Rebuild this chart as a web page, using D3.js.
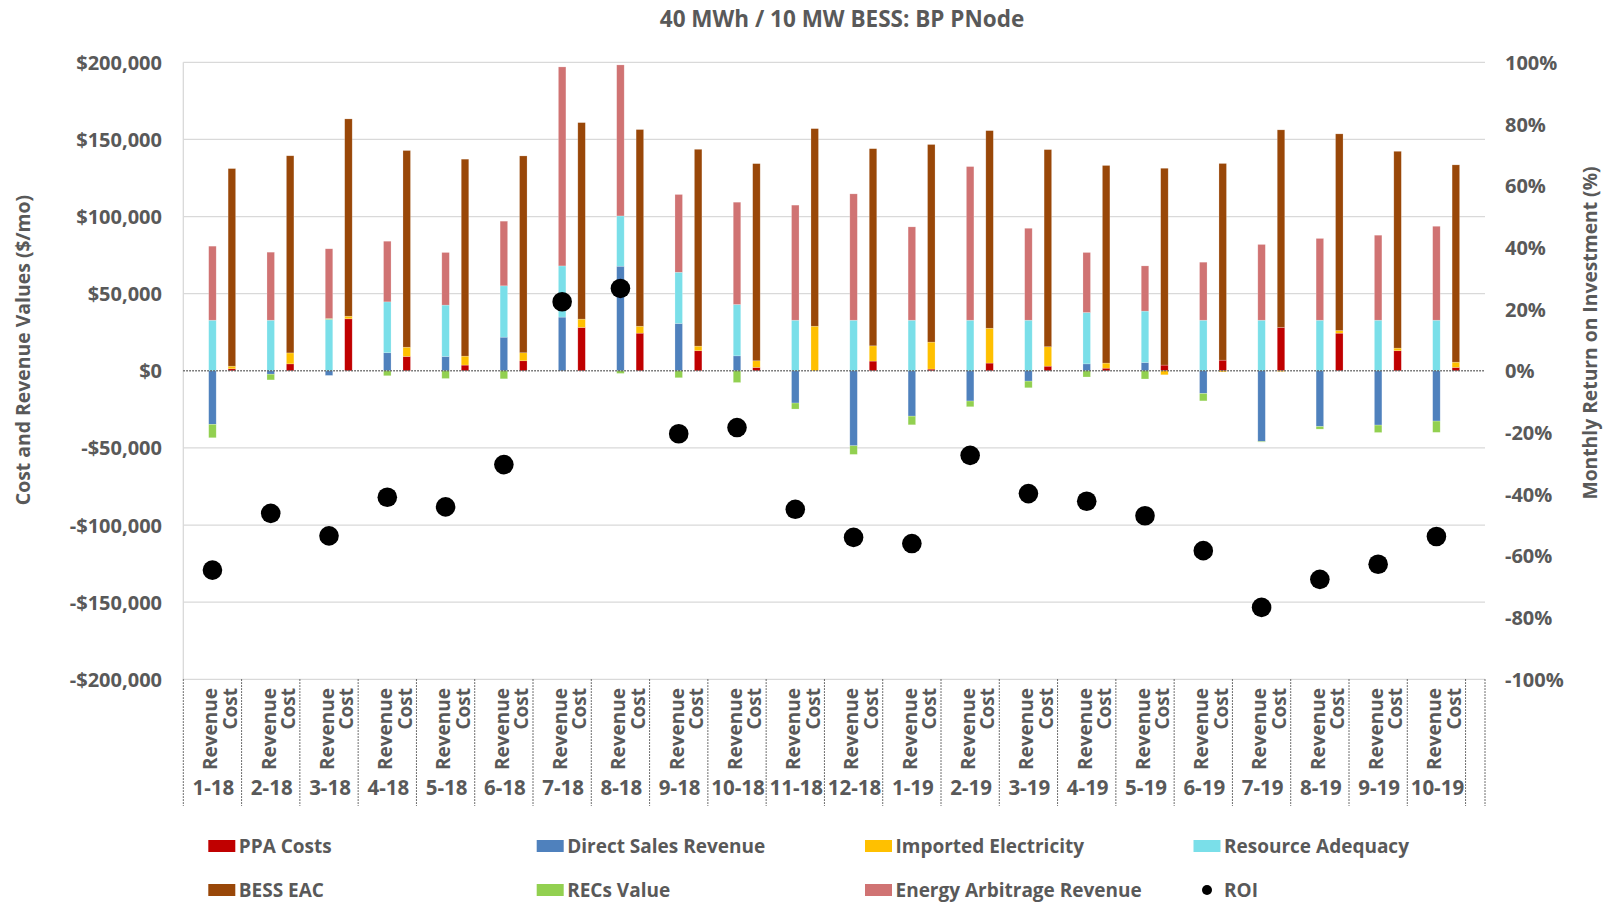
<!DOCTYPE html>
<html>
<head>
<meta charset="utf-8">
<script src="https://cdn.jsdelivr.net/npm/d3@7"></script>
<style>
  body { margin: 0; background: #fff; }
  svg text { font-family: "Open Sans", "Segoe UI", "DejaVu Sans", sans-serif; font-weight: 700; fill: #595959; }
</style>
</head>
<body>
<svg id="chart" width="1610" height="905"></svg>
<script>
// Monthly values, Jan 2018 – Oct 2019 ($/month)
const months = ["1-18","2-18","3-18","4-18","5-18","6-18","7-18","8-18","9-18","10-18","11-18","12-18",
                "1-19","2-19","3-19","4-19","5-19","6-19","7-19","8-19","9-19","10-19"];

// Cost side
const ppaCosts            = [1300, 4500, 33700, 9300, 3700, 6500, 28100, 24400, 13000, 2200, 0, 6300,
                             1100, 5000, 3000, 1700, 3700, 6900, 28100, 24400, 13000, 2200];
const importedElectricity = [1700, 7100, 1700, 6000, 5800, 5200, 5400, 4500, 3000, 4300, 28900, 9900,
                             17500, 22600, 12600, 3300, -2600, -700, -500, 1700, 1700, 3400];
const bessEac             = [128100, 127800, 127900, 127500, 127700, 127600, 127400, 127500, 127600, 127800, 128100, 127800,
                             128100, 128100, 127800, 128100, 127600, 127500, 128100, 127500, 127600, 127900];

// Revenue side
const directSales         = [-34700, -2200, -3000, 11700, 9300, 21800, 34800, 67800, 30700, 9700, -20900, -48600,
                             -29400, -19600, -6700, 4500, 5400, -14700, -45800, -36100, -35200, -32600];
const resourceAdequacy    = [32800, 32800, 33300, 33000, 33300, 33300, 33200, 32600, 33200, 33300, 32800, 32800,
                             32800, 32800, 32800, 33300, 33300, 32800, 32800, 32800, 32800, 32800];
const recsValue           = [-8700, -3700, 600, -3200, -5000, -5200, 0, -1700, -4500, -7600, -3900, -5600,
                             -5600, -3700, -4300, -4000, -5300, -4800, -400, -1700, -4800, -7300];
const energyArbitrage     = [48000, 44100, 45200, 39300, 34100, 41900, 129000, 97900, 50400, 66300, 74600, 81900,
                             60500, 99600, 59600, 38900, 29300, 37600, 49100, 53000, 55100, 60900];

// Monthly return on investment (%)
const roi = [-64.6, -46.2, -53.5, -41.0, -44.1, -30.4, 22.4, 26.7, -20.4, -18.4, -44.9, -54.0,
             -56.0, -27.4, -39.8, -42.3, -47.0, -58.3, -76.7, -67.6, -62.7, -53.7];

const leftTicks  = [200000, 150000, 100000, 50000, 0, -50000, -100000, -150000, -200000];
const rightTicks = [100, 80, 60, 40, 20, 0, -20, -40, -60, -80, -100];

const series = [
  { key: "ppa",       name: "PPA Costs",                color: "#C00000" },
  { key: "direct",    name: "Direct Sales Revenue",     color: "#4F81BD" },
  { key: "imported",  name: "Imported Electricity",     color: "#FFC000" },
  { key: "ra",        name: "Resource Adequacy",        color: "#7ADFE9" },
  { key: "bess",      name: "BESS EAC",                 color: "#994708" },
  { key: "recs",      name: "RECs Value",               color: "#92D050" },
  { key: "arbitrage", name: "Energy Arbitrage Revenue", color: "#D07373" }
];

// ---- layout ----
const svg = d3.select("#chart");
const plot = { left: 183.3, right: 1485, top: 62.3, bottom: 679.3 };
const axisBottom = 806;
const textColor = "#595959";

// each month: spacer slot, Revenue slot, Cost slot; one spacer at the end
const slots = months.flatMap(m => [`${m}|gap`, `${m}|Revenue`, `${m}|Cost`]).concat(["end"]);
const x = d3.scaleBand().domain(slots).range([plot.left, plot.right]).padding(0);
const y = d3.scaleLinear().domain([-200000, 200000]).range([plot.bottom, plot.top]);
const yR = d3.scaleLinear().domain([-100, 100]).range([plot.bottom, plot.top]);

// ---- stacked rows ----
const rows = months.flatMap((m, i) => [
  { slot: `${m}|Revenue`, ppa: 0, direct: directSales[i], imported: 0, ra: resourceAdequacy[i], bess: 0, recs: recsValue[i], arbitrage: energyArbitrage[i] },
  { slot: `${m}|Cost`, ppa: ppaCosts[i], direct: 0, imported: importedElectricity[i], ra: 0, bess: bessEac[i], recs: 0, arbitrage: 0 }
]);
const stacked = d3.stack().keys(series.map(s => s.key)).offset(d3.stackOffsetDiverging)(rows);

// ---- gridlines ----
const grid = svg.append("g");
grid.selectAll("line").data(leftTicks.filter(t => t !== 0)).join("line")
  .attr("x1", plot.left).attr("x2", plot.right)
  .attr("y1", d => y(d)).attr("y2", d => y(d))
  .attr("stroke", "#d9d9d9").attr("stroke-width", 1.3);
grid.append("line")
  .attr("x1", plot.left).attr("x2", plot.left)
  .attr("y1", plot.top).attr("y2", plot.bottom)
  .attr("stroke", "#d9d9d9").attr("stroke-width", 1.3);

// ---- bars ----
const barW = 7.5;
const barsG = svg.append("g");
stacked.forEach((layer, li) => {
  barsG.append("g").attr("fill", series[li].color)
    .selectAll("rect").data(layer.filter(d => d[1] !== d[0])).join("rect")
    .attr("x", d => x(d.data.slot) + x.bandwidth() / 2 - barW / 2)
    .attr("width", barW)
    .attr("y", d => y(Math.max(d[0], d[1])))
    .attr("height", d => Math.abs(y(d[0]) - y(d[1])))
    .attr("stroke", "rgba(255,255,255,0.35)").attr("stroke-width", 0.6);
});

// zero line
svg.append("line")
  .attr("x1", plot.left).attr("x2", plot.right)
  .attr("y1", y(0)).attr("y2", y(0))
  .attr("stroke", "#595959").attr("stroke-width", 1.4).attr("stroke-dasharray", "1.5,1.5");

// ---- ROI points ----
svg.append("g").selectAll("circle").data(roi).join("circle")
  .attr("cx", (d, i) => x(`${months[i]}|Revenue`) + x.bandwidth() / 2)
  .attr("cy", d => yR(d))
  .attr("r", 9.8)
  .attr("fill", "#000");

// ---- left axis ----
const leftAxis = d3.axisLeft(y).tickValues(leftTicks).tickSize(0).tickPadding(0)
  .tickFormat(d => (d < 0 ? "-$" : "$") + d3.format(",")(Math.abs(d)));
const la = svg.append("g").attr("transform", `translate(162,0)`).call(leftAxis);
la.select(".domain").remove();
la.selectAll("text").attr("font-size", 20).attr("dy", "0.35em").attr("fill", textColor);
la.attr("font-family", null).attr("font-size", null);

// ---- right axis ----
const rightAxis = d3.axisRight(yR).tickValues(rightTicks).tickSize(0).tickPadding(0)
  .tickFormat(d => d + "%");
const ra = svg.append("g").attr("transform", `translate(1505,0)`).call(rightAxis);
ra.select(".domain").remove();
ra.selectAll("text").attr("font-size", 20).attr("dy", "0.35em").attr("fill", textColor);
ra.attr("font-family", null).attr("font-size", null);

// ---- category axis (two levels) ----
const cat = svg.append("g");
const sepX = months.map(m => x(`${m}|gap`)).concat([x("end"), plot.right]);
cat.selectAll("line").data(sepX).join("line")
  .attr("x1", d => d).attr("x2", d => d)
  .attr("y1", plot.bottom).attr("y2", axisBottom)
  .attr("stroke", "#404040").attr("stroke-width", 1).attr("stroke-dasharray", "1.5,1.5");

months.forEach(m => {
  ["Revenue", "Cost"].forEach(k => {
    const cx = x(`${m}|${k}`) + x.bandwidth() / 2 - 2;
    cat.append("text")
      .attr("transform", `translate(${cx},688) rotate(-90)`)
      .attr("text-anchor", "end")
      .attr("dy", "0.36em")
      .attr("font-size", 19)
      .text(k);
  });
  const gx = x(`${m}|gap`) + x.bandwidth() * 1.5;
  cat.append("text")
    .attr("x", gx + 1).attr("y", 795)
    .attr("text-anchor", "middle")
    .attr("font-size", 20.5)
    .text(m);
});

// ---- titles ----
svg.append("text")
  .attr("x", 842).attr("y", 27)
  .attr("text-anchor", "middle")
  .attr("font-size", 22.5)
  .text("40 MWh / 10 MW BESS: BP PNode");

svg.append("text")
  .attr("transform", "translate(23,350) rotate(-90)")
  .attr("text-anchor", "middle").attr("dy", "0.35em")
  .attr("font-size", 19.4)
  .text("Cost and Revenue Values ($/mo)");

svg.append("text")
  .attr("transform", "translate(1590,333) rotate(-90)")
  .attr("text-anchor", "middle").attr("dy", "0.35em")
  .attr("font-size", 19.3)
  .text("Monthly Return on Investment (%)");

// ---- legend ----
const legendItems = [
  series[0], series[1], series[2], series[3],
  series[4], series[5], series[6], { key: "roi", name: "ROI", color: "#000" }
];
const colX = [208.3, 536.7, 865, 1193.5];
const rowY = [846, 890];
const lg = svg.append("g");
legendItems.forEach((it, i) => {
  const cx = colX[i % 4], cy = rowY[Math.floor(i / 4)];
  const g = lg.append("g");
  if (it.key === "roi") {
    g.append("circle").attr("cx", cx + 13.5).attr("cy", cy).attr("r", 5).attr("fill", "#000");
  } else {
    g.append("rect").attr("x", cx).attr("y", cy - 6).attr("width", 27).attr("height", 12).attr("fill", it.color);
  }
  g.append("text").attr("x", cx + 30.5).attr("y", cy).attr("dy", "0.36em")
    .attr("font-size", 19).text(it.name);
});
</script>
</body>
</html>
